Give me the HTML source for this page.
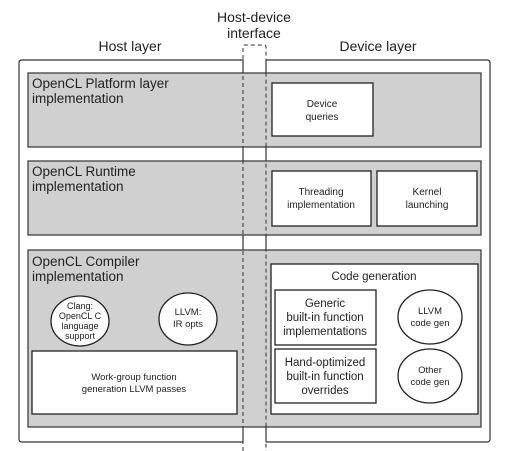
<!DOCTYPE html>
<html><head><style>body{margin:0;background:#fff}svg{display:block}text{font-family:"Liberation Sans",sans-serif;fill:#222}</style></head><body>
<svg width="513" height="451" viewBox="0 0 513 451">
<g font-size="14" text-anchor="middle">
<text x="254" y="22">Host-device</text>
<text x="254" y="38">interface</text>
<text x="130" y="51">Host layer</text>
<text x="378" y="51">Device layer</text>
</g>
<path d="M243 442 H22 Q19 442 19 439 V63 Q19 60 22 60 H243 V442" fill="none" stroke="#333" stroke-width="1.2"/>
<path d="M266 442 H487 Q490 442 490 439 V63 Q490 60 487 60 H266 V442" fill="none" stroke="#333" stroke-width="1.2"/>
<rect x="28" y="73" width="453" height="74" fill="#d0d0d0" stroke="#333" stroke-width="1.2"/>
<rect x="28" y="161" width="453" height="74" fill="#d0d0d0" stroke="#333" stroke-width="1.2"/>
<rect x="28" y="250" width="453" height="177" fill="#d0d0d0" stroke="#333" stroke-width="1.2"/>
<path d="M243 451 V47 Q243 45 245 45 H264 Q266 45 266 47 V451" fill="none" stroke="#333" stroke-width="1" stroke-dasharray="4,3"/>
<g font-size="13.5">
<text x="32" y="88">OpenCL Platform layer</text><text x="32" y="103">implementation</text>
<text x="32" y="176">OpenCL Runtime</text><text x="32" y="191">implementation</text>
<text x="32" y="266">OpenCL Compiler</text><text x="32" y="281">implementation</text>
</g>
<g fill="#fff" stroke="#222" stroke-width="1.3">
<rect x="272" y="83" width="101" height="53"/>
<rect x="272" y="171" width="99" height="55"/>
<rect x="377" y="171" width="100" height="55"/>
<rect x="271" y="264" width="207" height="150"/>
<rect x="275" y="290" width="101" height="55"/>
<rect x="275" y="349" width="101" height="54"/>
<rect x="32" y="351" width="205" height="63"/>
<ellipse cx="430" cy="317" rx="32" ry="27"/>
<ellipse cx="430" cy="376" rx="32" ry="27"/>
<ellipse cx="80" cy="321" rx="29" ry="25"/>
<ellipse cx="188" cy="319" rx="29" ry="26"/>
</g>
<g font-size="10" text-anchor="middle">
<text x="322" y="107">Device</text><text x="322" y="120">queries</text>
<text x="321" y="195">Threading</text><text x="321" y="208">implementation</text>
<text x="427" y="195">Kernel</text><text x="427" y="208">launching</text>
<text x="374" y="280" font-size="11.5">Code generation</text>
<text x="325" y="307" font-size="11.5">Generic</text><text x="325" y="321" font-size="11.5">built-in function</text><text x="325" y="335" font-size="11.5">implementations</text>
<text x="325" y="366" font-size="11.5">Hand-optimized</text><text x="325" y="380" font-size="11.5">built-in function</text><text x="325" y="394" font-size="11.5">overrides</text>
<text x="430" y="314" font-size="9.5">LLVM</text><text x="430" y="326" font-size="9.5">code gen</text>
<text x="430" y="373" font-size="9.5">Other</text><text x="430" y="385" font-size="9.5">code gen</text>
<text x="80" y="309" font-size="9">Clang:</text><text x="80" y="319" font-size="9">OpenCL C</text><text x="80" y="329" font-size="9">language</text><text x="80" y="339" font-size="9">support</text>
<text x="188" y="315" font-size="9.5">LLVM:</text><text x="188" y="327" font-size="9.5">IR opts</text>
<text x="134" y="380" font-size="9.5">Work-group function</text><text x="134" y="392" font-size="9.5">generation LLVM passes</text>
</g>
</svg>
</body></html>
